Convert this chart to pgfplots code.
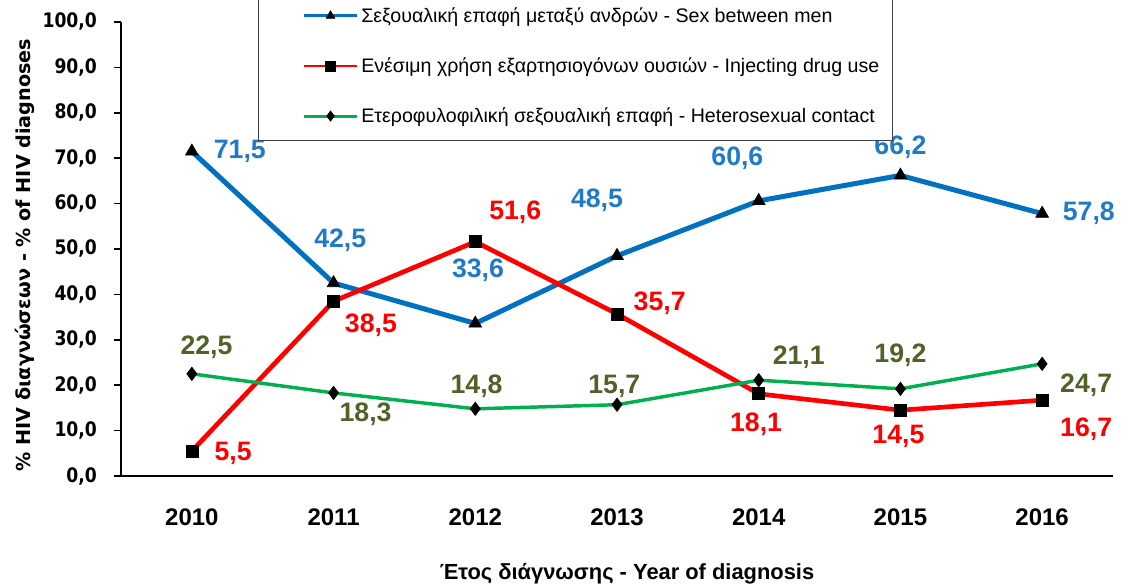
\documentclass[border=0pt]{standalone}
\usepackage{fontspec}
\setmainfont{Liberation Sans}
\newfontfamily\dv{DejaVu Sans}
\newfontfamily\dvn{DejaVu Sans}[FakeStretch=0.86]
\usepackage{pgfplots}
\pgfplotsset{compat=1.18}
\definecolor{cblue}{HTML}{0070C0}
\definecolor{lblue}{HTML}{1F7BC9}
\definecolor{cred}{HTML}{FF0000}
\definecolor{cgreen}{HTML}{00B050}
\definecolor{lgreen}{HTML}{4F6228}
\newcommand{\lab}[5]{\node[font=\bfseries\fontsize{20}{22}\selectfont, text=#1, xshift=#4, yshift=#5, inner sep=0pt] at (axis cs:#2) {#3};}
\begin{document}
\begin{tikzpicture}
\begin{axis}[
 scale only axis, width=744pt, height=340.5pt,
 xmin=-0.5, xmax=6.5, ymin=0, ymax=100,
 axis x line*=bottom, axis y line*=left,
 axis line style={line width=1.1pt, black},
 tick align=outside, major tick length=5.5pt,
 xtick={0,...,6}, xticklabels={2010,2011,2012,2013,2014,2015,2016},
 x tick style={draw=none},
 extra x ticks={-0.5,0.5,1.5,2.5,3.5,4.5,5.5,6.5},
 extra x tick labels={,,,,,,,},
 extra x tick style={tick style={draw=black, line width=1.1pt}},
 ytick={0,10,...,100},
 y tick style={line width=1.1pt, black},
 yticklabel style={/pgf/number format/fixed, /pgf/number format/fixed zerofill, /pgf/number format/precision=1, /pgf/number format/use comma, /pgf/number format/assume math mode=true, font=\dvn\bfseries\fontsize{15}{16}\selectfont, xshift=-9pt},
 x tick label style={font=\bfseries\fontsize{18}{20}\selectfont, anchor=center, yshift=-25.5pt},
 every axis y label/.style={at={(axis description cs:0,0.5)}, xshift=-72pt, yshift=-4.5pt, rotate=90, anchor=center, font=\dv\bfseries\fontsize{14.4}{16}\selectfont},
 every axis x label/.style={at={(axis description cs:0.5,0)}, yshift=-73.5pt, xshift=7.5pt, anchor=center, font=\bfseries\fontsize{16.4}{18}\selectfont},
 ylabel={\% HIV διαγνώσεων - \% of HIV diagnoses},
 xlabel={Έτος διάγνωσης - Year of diagnosis},
 legend style={at={(0.1381,0.7423)}, anchor=south west, yshift=-1.5pt, draw=black!75, line width=0.8pt, fill=white, font=\fontsize{14.7}{17}\selectfont, inner xsep=8pt, inner ysep=10pt, row sep=21pt, cells={anchor=west}},
 legend image code/.code={
   \path[draw=none] (0pt,0pt) -- (26pt,0pt);
   \draw[#1, line width=2.2pt, mark size=3.8pt, mark repeat=2, mark phase=2] plot coordinates {(26pt,0pt) (46pt,0pt) (66pt,0pt)};
 },
]
\addplot[cblue, line width=3.75pt, mark=triangle*, mark size=5.5pt, mark options={draw=black, fill=black, line width=0.5pt}] coordinates {(0,71.5) (1,42.5) (2,33.6) (3,48.5) (4,60.6) (5,66.2) (6,57.8)};
\addlegendentry{Σεξουαλική επαφή μεταξύ ανδρών - Sex between men}
\addplot[cred, line width=3.5pt, mark=square*, mark size=4.5pt, mark options={draw=black, fill=black, line width=0.5pt}] coordinates {(0,5.5) (1,38.5) (2,51.6) (3,35.7) (4,18.1) (5,14.5) (6,16.7)};
\addlegendentry{Ενέσιμη χρήση εξαρτησιογόνων ουσιών - Injecting drug use}
\addplot[cgreen, line width=2.6pt, mark=diamond*, mark size=5pt, mark options={draw=black, fill=black, line width=0.5pt}] coordinates {(0,22.5) (1,18.3) (2,14.8) (3,15.7) (4,21.1) (5,19.2) (6,24.7)};
\addlegendentry{Ετεροφυλοφιλική σεξουαλική επαφή - Heterosexual contact}
\lab{lblue}{0,71.5}{71,5}{36pt}{0pt}
\lab{lblue}{1,42.5}{42,5}{5pt}{32pt}
\lab{lblue}{2,33.6}{33,6}{2pt}{40pt}
\lab{lblue}{3,48.5}{48,5}{-15pt}{42pt}
\lab{lblue}{4,60.6}{60,6}{-16pt}{32pt}
\lab{lblue}{5,66.2}{66,2}{0pt}{21pt}
\lab{lblue}{6,57.8}{57,8}{35pt}{0pt}
\lab{cred}{0,5.5}{5,5}{31pt}{-1.5pt}
\lab{cred}{1,38.5}{38,5}{28pt}{-18pt}
\lab{cred}{2,51.6}{51,6}{30pt}{22pt}
\lab{cred}{3,35.7}{35,7}{32pt}{8pt}
\lab{cred}{4,18.1}{18,1}{-2pt}{-22.5pt}
\lab{cred}{5,14.5}{14,5}{-1.5pt}{-19.5pt}
\lab{cred}{6,16.7}{16,7}{33pt}{-22pt}
\lab{lgreen}{0,22.5}{22,5}{11pt}{20pt}
\lab{lgreen}{1,18.3}{18,3}{24pt}{-16pt}
\lab{lgreen}{2,14.8}{14,8}{1pt}{17pt}
\lab{lgreen}{3,15.7}{15,7}{-2pt}{14pt}
\lab{lgreen}{4,21.1}{21,1}{30pt}{17pt}
\lab{lgreen}{5,19.2}{19,2}{0pt}{25pt}
\lab{lgreen}{6,24.7}{24,7}{33pt}{-16pt}
\end{axis}
\pgfresetboundingbox
\path[use as bounding box] (-90.75pt,-81.75pt) rectangle (755.25pt,357pt);
\end{tikzpicture}
\end{document}
